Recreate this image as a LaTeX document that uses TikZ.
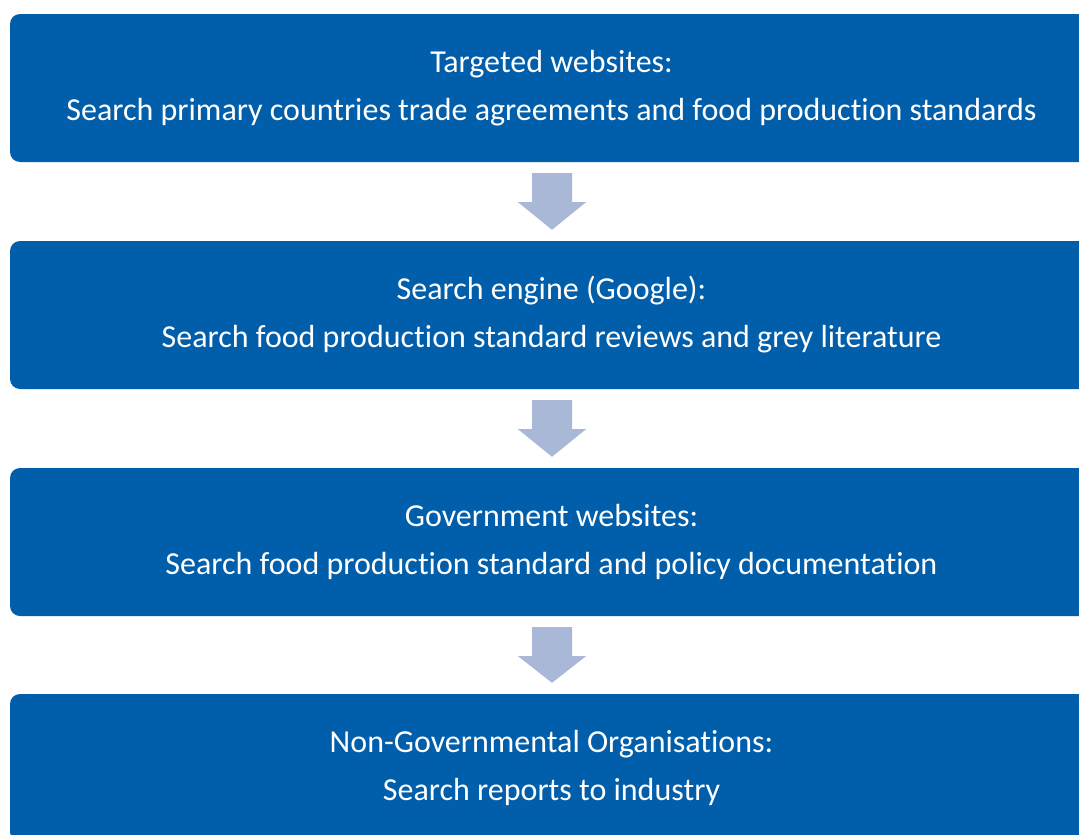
\documentclass[tikz,border=0pt]{standalone}
\usepackage{fontspec}
\setmainfont[Ligatures=NoCommon]{Carlito}
\usetikzlibrary{calc}
\definecolor{boxblue}{HTML}{005EAA}
\definecolor{arrowblue}{HTML}{AAB8D8}
\tikzset{
  stepbox/.style={fill=boxblue, draw=none, rounded corners=10pt, minimum width=1083pt, minimum height=148pt, text=white, align=center, inner sep=0pt, font=\fontsize{32}{48}\selectfont},
  blockarrow/.style={fill=arrowblue, draw=none}
}
\begin{document}
\begin{tikzpicture}[x=1pt,y=-1pt]
\useasboundingbox (0,0) rectangle (1079,835);
\clip (0,0) rectangle (1079,835);
\node[stepbox] (b1) at (551.5,88) {Targeted websites:\\Search primary countries trade agreements and food production standards};
\node[stepbox] (b2) at (551.5,315) {Search engine (Google):\\Search food production standard reviews and grey literature};
\node[stepbox] (b3) at (551.5,542) {Government websites:\\Search food production standard and policy documentation};
\node[stepbox] (b4) at (551.5,768) {Non-Governmental Organisations:\\Search reports to industry};
\foreach \a/\b in {b1/b2,b2/b3,b3/b4}{
  \fill[blockarrow] ($(\a.south)+(-19.5,11)$) -- ($(\a.south)+(20.5,11)$) -- ($(\a.south)+(20.5,40)$) -- ($(\a.south)+(34.5,40)$) -- ($(\b.north)+(0.5,-11)$) -- ($(\a.south)+(-33.5,40)$) -- ($(\a.south)+(-19.5,40)$) -- cycle;
}
\end{tikzpicture}
\end{document}
